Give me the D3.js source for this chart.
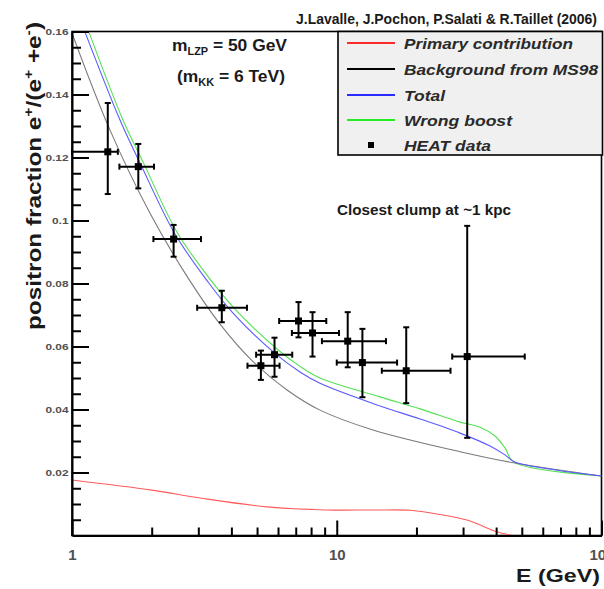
<!DOCTYPE html>
<html>
<head>
<meta charset="utf-8">
<script src="https://cdn.jsdelivr.net/npm/d3@7"></script>
<style>
  html, body { margin: 0; padding: 0; background: #fff; }
  svg { display: block; font-family: "Liberation Sans", Arial, Helvetica, sans-serif; }
</style>
</head>
<body>
<svg id="chart" width="604" height="589"></svg>
<script>
// ---- HEAT measurements of the positron fraction ----
const heatE    = [1.365, 1.78, 2.42, 3.68, 5.17, 5.82, 7.17, 8.10, 11.0, 12.5, 18.3, 31.1];
const heatV    = [0.1218, 0.1171, 0.0941, 0.0723, 0.0539, 0.0574, 0.0681, 0.0643, 0.0617, 0.0549, 0.0523, 0.0568];
const heatHi   = [0.1373, 0.1243, 0.0986, 0.0777, 0.0587, 0.0628, 0.0741, 0.0709, 0.0709, 0.0656, 0.0661, 0.0983];
const heatLo   = [0.1084, 0.1102, 0.0885, 0.0677, 0.0494, 0.0504, 0.0629, 0.0568, 0.0534, 0.0439, 0.0420, 0.0310];
const heatEmin = [1.0, 1.51, 2.03, 2.97, 4.60, 4.96, 6.06, 6.77, 8.79, 10.0, 14.8, 27.3];
const heatEmax = [1.49, 2.04, 3.07, 4.58, 6.08, 6.79, 9.13, 10.2, 15.35, 16.9, 26.9, 51.3];

// ---- model curves (energy in GeV, positron fraction) ----
const primaryE = [1.0, 2.0, 3.05, 5.45, 9.19, 14.0, 19.0, 23.2, 31.0, 40.2, 46.0];
const primaryV = [0.0176, 0.0144, 0.0119, 0.0091, 0.0081, 0.0081, 0.0080, 0.0070, 0.0049, 0.0012, 0.0];

const backgroundE = [1.0, 1.392, 1.971, 2.672, 3.624, 4.828, 6.49, 8.644, 13.71, 29.22, 47.1, 100];
const backgroundV = [0.1595, 0.1287, 0.1023, 0.0833, 0.0671, 0.0552, 0.0462, 0.0398, 0.0335, 0.0266, 0.0230, 0.0189];

const totalE = [1.12, 1.518, 1.822, 2.449, 3.264, 4.057, 5.845, 7.264, 8.644, 14.57, 20.63, 29.22, 37.92, 43.2, 47.1, 100];
const totalV = [0.1598, 0.1319, 0.1176, 0.0957, 0.0805, 0.0706, 0.0578, 0.0519, 0.0483, 0.0411, 0.0370, 0.0325, 0.0284, 0.0256, 0.0233, 0.0189];

const wrongE = [1.159, 1.558, 1.871, 2.493, 3.321, 4.128, 5.947, 7.264, 8.644, 14.57, 20.63, 29.22, 34.76, 39.61, 43.2, 46.72, 100];
const wrongV = [0.1598, 0.1319, 0.1179, 0.0963, 0.0814, 0.0719, 0.0592, 0.0537, 0.0500, 0.0440, 0.0402, 0.0360, 0.0344, 0.0316, 0.0278, 0.0233, 0.0189];

// ---- axis ticks ----
const yMajorTicks = [0.02, 0.04, 0.06, 0.08, 0.10, 0.12, 0.14, 0.16];
const yTickLabels = ["0.02", "0.04", "0.06", "0.08", "0.1", "0.12", "0.14", "0.16"];
const yMinorTicks = d3.range(1, 32).map(i => i * 0.005).filter(v => Math.abs(v / 0.02 - Math.round(v / 0.02)) > 1e-6);
const xMajorTicks = [1, 10, 100];
const xTickLabels = ["1", "10", "100"];
const xMinorTicks = [2, 3, 4, 5, 6, 7, 8, 9, 20, 30, 40, 50, 60, 70, 80, 90];

// ---- legend ----
const legendLabels = ["Primary contribution", "Background from MS98", "Total", "Wrong boost", "HEAT data"];
const legendColors = ["#ff2a2a", "#000000", "#2a2aff", "#22ee22", null];
const legendWidths = [169, 194, 41, 108, 87];

const svg = d3.select("#chart");
const x = d3.scaleLog().domain([1, 100]).range([72, 601.5]);
const y = d3.scaleLinear().domain([0, 0.16]).range([535.5, 31.5]);

svg.append("defs").append("clipPath").attr("id", "plotClip")
  .append("rect").attr("x", 72).attr("y", 31.5).attr("width", 529.5).attr("height", 504);

// frame
svg.append("rect")
  .attr("x", 72).attr("y", 31.5).attr("width", 529.5).attr("height", 504)
  .attr("fill", "none").attr("stroke", "#000").attr("stroke-width", 1.6);

// model curves
const line = d3.line().x(d => x(d[0])).y(d => y(d[1])).curve(d3.curveCatmullRom.alpha(0.5));
const curves = svg.append("g").attr("clip-path", "url(#plotClip)").attr("fill", "none");
const series = [
  { e: primaryE, v: primaryV, color: "#ff5a5a", w: 1.1 },
  { e: wrongE, v: wrongV, color: "#55e055", w: 1.1 },
  { e: backgroundE, v: backgroundV, color: "#7a7a7a", w: 1.1 },
  { e: totalE, v: totalV, color: "#5a5aff", w: 1.1 }
];
series.forEach(s => {
  curves.append("path")
    .attr("d", line(s.e.map((e, i) => [e, s.v[i]])))
    .attr("stroke", s.color).attr("stroke-width", s.w);
});

// axes
const yAxisG = svg.append("g").attr("transform", "translate(72,0)")
  .call(d3.axisLeft(y).tickValues(yMajorTicks).tickSize(-17).tickSizeOuter(0)
    .tickFormat((d, i) => yTickLabels[i]));
yAxisG.select(".domain").attr("stroke-width", 2);
yAxisG.selectAll(".tick line").attr("stroke-width", 2);
yAxisG.selectAll(".tick text")
  .attr("x", 0).attr("dy", "0.36em")
  .attr("transform", "translate(-3.5,0) scale(1.25,1)")
  .attr("font-size", 9.5).attr("font-weight", "bold").attr("fill", "#505050")
  .attr("font-family", "Liberation Sans, Arial, sans-serif");

const yMinorG = svg.append("g").attr("transform", "translate(72,0)")
  .call(d3.axisLeft(y).tickValues(yMinorTicks).tickSize(-9).tickSizeOuter(0).tickFormat(""));
yMinorG.select(".domain").remove();
yMinorG.selectAll(".tick line").attr("stroke-width", 2);

const xAxisG = svg.append("g").attr("transform", "translate(0,535.5)")
  .call(d3.axisBottom(x).tickValues(xMajorTicks).tickSize(-15).tickSizeOuter(0)
    .tickFormat((d, i) => xTickLabels[i]));
xAxisG.select(".domain").attr("stroke-width", 2);
xAxisG.selectAll(".tick line").attr("stroke-width", 2);
xAxisG.selectAll(".tick text")
  .attr("y", 24.5).attr("dy", null)
  .attr("font-size", 15).attr("font-weight", "bold").attr("fill", "#505050")
  .attr("font-family", "Liberation Sans, Arial, sans-serif");

const xMinorG = svg.append("g").attr("transform", "translate(0,535.5)")
  .call(d3.axisBottom(x).tickValues(xMinorTicks).tickSize(-8).tickSizeOuter(0).tickFormat(""));
xMinorG.select(".domain").remove();
xMinorG.selectAll(".tick line").attr("stroke-width", 2);

// HEAT data with error bars
const cap = 3;
const pts = svg.append("g").attr("stroke", "#000").attr("stroke-width", 2).attr("fill", "none");
heatE.forEach((e, i) => {
  const cx = x(e), cy = y(heatV[i]);
  const yt = y(heatHi[i]), yb = y(heatLo[i]);
  const xl = x(heatEmin[i]), xr = x(heatEmax[i]);
  pts.append("line").attr("x1", cx).attr("x2", cx).attr("y1", yt).attr("y2", yb);
  pts.append("line").attr("x1", cx - cap).attr("x2", cx + cap).attr("y1", yt).attr("y2", yt);
  pts.append("line").attr("x1", cx - cap).attr("x2", cx + cap).attr("y1", yb).attr("y2", yb);
  pts.append("line").attr("x1", xl).attr("x2", xr).attr("y1", cy).attr("y2", cy);
  pts.append("line").attr("x1", xl).attr("x2", xl).attr("y1", cy - cap).attr("y2", cy + cap);
  pts.append("line").attr("x1", xr).attr("x2", xr).attr("y1", cy - cap).attr("y2", cy + cap);
  svg.append("rect").attr("x", cx - 3.5).attr("y", cy - 3.5).attr("width", 7).attr("height", 7)
    .attr("fill", "#000");
});

// legend box
svg.append("rect")
  .attr("x", 338).attr("y", 31.5).attr("width", 264.5).attr("height", 123.5)
  .attr("fill", "#f0f0f0").attr("stroke", "#000").attr("stroke-width", 1.6);
const rowY = [43, 69, 95, 120, 145];
legendLabels.forEach((lab, i) => {
  if (legendColors[i]) {
    svg.append("line").attr("x1", 347).attr("x2", 395).attr("y1", rowY[i]).attr("y2", rowY[i])
      .attr("stroke", legendColors[i]).attr("stroke-width", 2);
  } else {
    svg.append("rect").attr("x", 368).attr("y", rowY[i] - 3).attr("width", 6).attr("height", 6)
      .attr("fill", "#000");
  }
  svg.append("text").attr("x", 404).attr("y", rowY[i] + 6)
    .attr("font-size", 15.5).attr("font-style", "italic").attr("font-weight", "bold")
    .attr("fill", "#2a2a2a")
    .attr("textLength", legendWidths[i]).attr("lengthAdjust", "spacingAndGlyphs")
    .text(lab);
});

// title
svg.append("text").attr("x", 296).attr("y", 24)
  .attr("font-size", 14.5).attr("font-weight", "bold").attr("fill", "#1a1a1a")
  .attr("textLength", 301).attr("lengthAdjust", "spacingAndGlyphs")
  .text("J.Lavalle, J.Pochon, P.Salati & R.Taillet (2006)");

// mass annotations
const m1 = svg.append("text").attr("x", 172).attr("y", 50.5)
  .attr("font-size", 16).attr("font-weight", "bold").attr("fill", "#1a1a1a")
  .attr("textLength", 115).attr("lengthAdjust", "spacingAndGlyphs");
m1.append("tspan").text("m");
m1.append("tspan").attr("dy", 4).attr("font-size", 10).text("LZP");
m1.append("tspan").attr("dy", -4).text(" = 50 GeV");

const m2 = svg.append("text").attr("x", 177).attr("y", 81.5)
  .attr("font-size", 16).attr("font-weight", "bold").attr("fill", "#1a1a1a")
  .attr("textLength", 108).attr("lengthAdjust", "spacingAndGlyphs");
m2.append("tspan").text("(m");
m2.append("tspan").attr("dy", 4).attr("font-size", 10).text("KK");
m2.append("tspan").attr("dy", -4).text(" = 6 TeV)");

svg.append("text").attr("x", 337).attr("y", 215)
  .attr("font-size", 15).attr("font-weight", "bold").attr("fill", "#1a1a1a")
  .attr("textLength", 174).attr("lengthAdjust", "spacingAndGlyphs")
  .text("Closest clump at ~1 kpc");

// axis titles
svg.append("text").attr("x", 516).attr("y", 582)
  .attr("font-size", 18).attr("font-weight", "bold").attr("fill", "#1a1a1a")
  .attr("textLength", 84).attr("lengthAdjust", "spacingAndGlyphs")
  .text("E (GeV)");

const yt = svg.append("text").attr("transform", "translate(41,176) rotate(-90)")
  .attr("text-anchor", "middle")
  .attr("font-size", 20).attr("font-weight", "bold").attr("fill", "#1a1a1a")
  .attr("textLength", 308).attr("lengthAdjust", "spacingAndGlyphs");
yt.append("tspan").text("positron fraction e");
yt.append("tspan").attr("dy", -8).attr("font-size", 13).text("+");
yt.append("tspan").attr("dy", 8).text("/(e");
yt.append("tspan").attr("dy", -8).attr("font-size", 13).text("+");
yt.append("tspan").attr("dy", 8).text(" +e");
yt.append("tspan").attr("dy", -8).attr("font-size", 13).text("-");
yt.append("tspan").attr("dy", 8).text(")");
</script>
</body>
</html>
